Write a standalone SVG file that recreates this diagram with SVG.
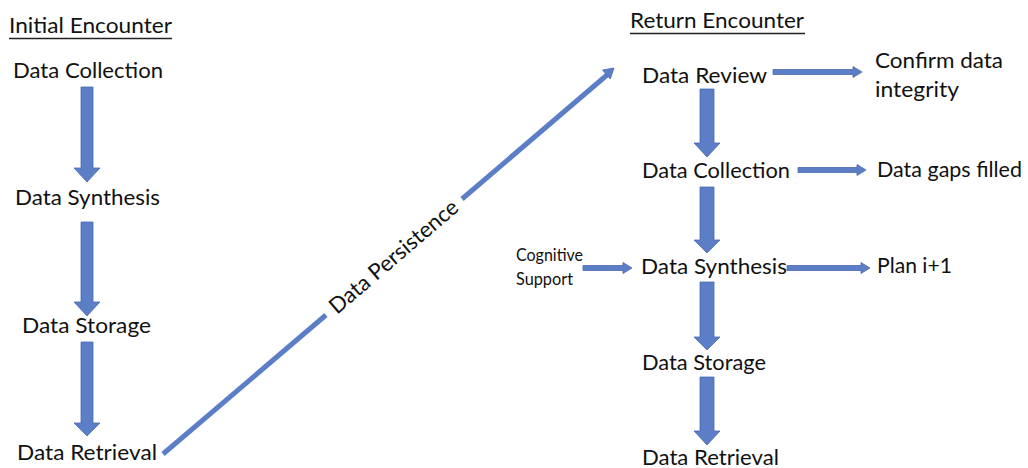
<svg xmlns="http://www.w3.org/2000/svg" width="1028" height="468" viewBox="0 0 1028 468">
<style>
.t{font-family:Lato,"Liberation Sans",sans-serif;font-size:22px;fill:#111}
.s{font-family:Lato,"Liberation Sans",sans-serif;font-size:17px;fill:#111}
.a{fill:#5B7EC6;stroke:#4A6AAE;stroke-width:0.8}
.ln{stroke:#5B7EC6;stroke-width:5;fill:none}
.u{stroke:#222;stroke-width:1.6}
</style>
<rect width="1028" height="468" fill="#fff"/>
<g id="title-initial"><text class="t" x="9" y="33" textLength="163" lengthAdjust="spacingAndGlyphs">Initial Encounter</text><line class="u" x1="9" y1="38.5" x2="172" y2="38.5"/></g>
<g id="title-return"><text class="t" x="630" y="28" textLength="174" lengthAdjust="spacingAndGlyphs">Return Encounter</text><line class="u" x1="630" y1="33.5" x2="805" y2="33.5"/></g>
<g id="l-collection"><text class="t" x="13" y="78" textLength="150" lengthAdjust="spacingAndGlyphs">Data Collection</text></g>
<g id="l-synthesis"><text class="t" x="15" y="205" textLength="145" lengthAdjust="spacingAndGlyphs">Data Synthesis</text></g>
<g id="l-storage"><text class="t" x="22" y="333" textLength="129" lengthAdjust="spacingAndGlyphs">Data Storage</text></g>
<g id="l-retrieval"><text class="t" x="17" y="460" textLength="140" lengthAdjust="spacingAndGlyphs">Data Retrieval</text></g>
<g id="r-review"><text class="t" x="642" y="83" textLength="125" lengthAdjust="spacingAndGlyphs">Data Review</text></g>
<g id="r-collection"><text class="t" x="642" y="178" textLength="148" lengthAdjust="spacingAndGlyphs">Data Collection</text></g>
<g id="r-synthesis"><text class="t" x="641" y="274" textLength="146" lengthAdjust="spacingAndGlyphs">Data Synthesis</text></g>
<g id="r-storage"><text class="t" x="642" y="370" textLength="124" lengthAdjust="spacingAndGlyphs">Data Storage</text></g>
<g id="r-retrieval"><text class="t" x="642" y="465" textLength="137" lengthAdjust="spacingAndGlyphs">Data Retrieval</text></g>
<g id="confirm"><text class="t" x="875" y="68" textLength="128" lengthAdjust="spacingAndGlyphs">Confirm data</text><text class="t" x="875" y="97" textLength="84" lengthAdjust="spacingAndGlyphs">integrity</text></g>
<g id="gaps"><text class="t" x="877" y="177" textLength="145" lengthAdjust="spacingAndGlyphs">Data gaps filled</text></g>
<g id="plan"><text class="t" x="877" y="273" textLength="75" lengthAdjust="spacingAndGlyphs">Plan i+1</text></g>
<g id="cognitive"><text class="s" x="516" y="261" textLength="67" lengthAdjust="spacingAndGlyphs">Cognitive</text><text class="s" x="516" y="285" textLength="57" lengthAdjust="spacingAndGlyphs">Support</text></g>
<g id="connectors">
<path class="a" d="M81,87 H93 V168 H100 L87,182 L74,168 H81 Z"/>
<path class="a" d="M81,222 H93 V302 H100 L87,316 L74,302 H81 Z"/>
<path class="a" d="M81,342 H93 V423 H100 L87,436 L74,423 H81 Z"/>
<path class="a" d="M700,89 H714 V143 H720 L707,157 L694,143 H700 Z"/>
<path class="a" d="M700,187 H714 V240 H720 L707,253 L694,240 H700 Z"/>
<path class="a" d="M700,282 H714 V337 H720 L707,350 L694,337 H700 Z"/>
<path class="a" d="M700,377 H714 V431 H720 L707,445 L694,431 H700 Z"/>
<path class="a" d="M773,69.5 H853 V66.5 L862,72 L853,77.5 V74.5 H773 Z"/>
<path class="a" d="M798,167.5 H857 V164.5 L866,170 L857,175.5 V172.5 H798 Z"/>
<path class="a" d="M787,265.5 H861 V262.5 L870,268 L861,273.5 V270.5 H787 Z"/>
<path class="a" d="M583,265.5 H623 V262.5 L632,268 L623,273.5 V270.5 H583 Z"/>
<line class="ln" x1="163" y1="454" x2="326" y2="315"/>
<line class="ln" x1="462" y1="199" x2="607" y2="75"/>
<polygon class="a" points="614,68 610.3,79 602.5,70"/>
<text class="t" transform="translate(394,257) rotate(-40.56)" x="0" y="7" text-anchor="middle" textLength="162" lengthAdjust="spacingAndGlyphs">Data Persistence</text>
</g>
</svg>
